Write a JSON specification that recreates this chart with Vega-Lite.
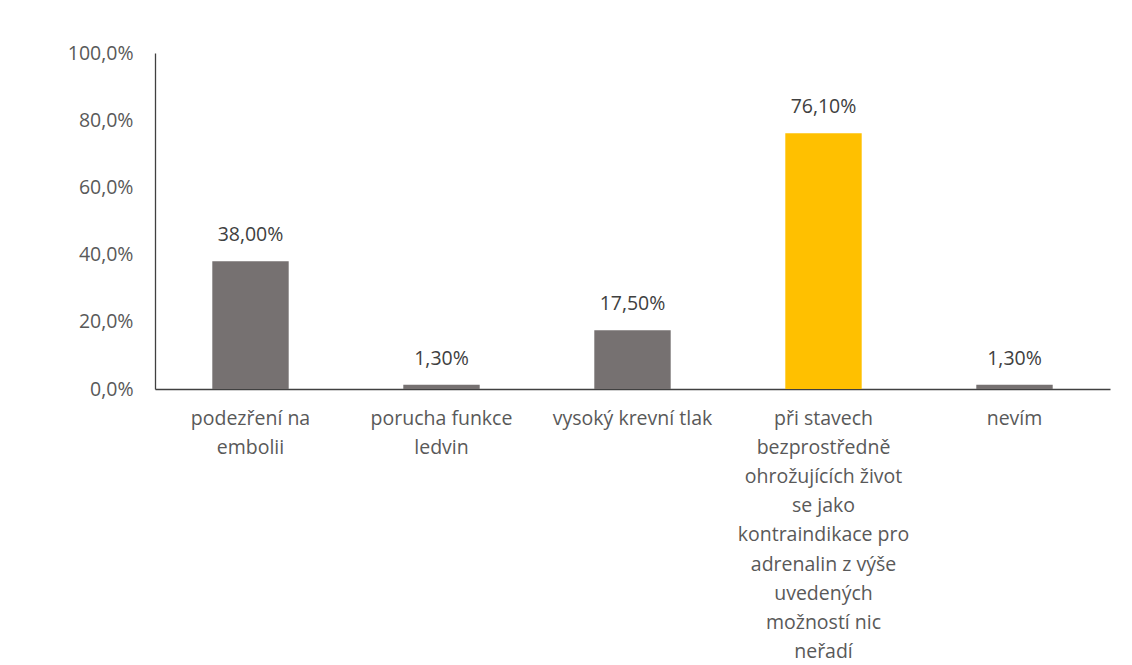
{
  "$schema": "https://vega.github.io/schema/vega-lite/v6.json",
  "autosize": "none",
  "width": 955,
  "height": 336,
  "padding": {"left": 155, "top": 53, "right": 22, "bottom": 276},
  "background": "white",
  "config": {
    "locale": {"number": {"decimal": ",", "thousands": " ", "grouping": [3], "currency": ["", " Kč"]}},
    "view": {"stroke": null},
    "font": "Open Sans"
  },
  "data": {
    "values": [
      {"kategorie": "podezření na\nembolii", "podil": 0.38, "zvyrazneni": "ne"},
      {"kategorie": "porucha funkce\nledvin", "podil": 0.013, "zvyrazneni": "ne"},
      {"kategorie": "vysoký krevní tlak", "podil": 0.175, "zvyrazneni": "ne"},
      {"kategorie": "při stavech\nbezprostředně\nohrožujících život\nse jako\nkontraindikace pro\nadrenalin z výše\nuvedených\nmožností nic\nneřadí", "podil": 0.761, "zvyrazneni": "ano"},
      {"kategorie": "nevím", "podil": 0.013, "zvyrazneni": "ne"}
    ]
  },
  "encoding": {
    "x": {
      "field": "kategorie",
      "type": "nominal",
      "sort": null,
      "scale": {"paddingInner": 0, "paddingOuter": 0},
      "axis": {
        "title": null,
        "labelAngle": 0,
        "labelExpr": "split(datum.label, '\\n')",
        "labelLimit": 0,
        "labelFontSize": 19.5,
        "labelLineHeight": 29.2,
        "labelColor": "#595959",
        "labelPadding": 20,
        "ticks": false,
        "domainColor": "#404040",
        "domainWidth": 1.3,
        "labelBaseline": "top"
      }
    },
    "y": {
      "field": "podil",
      "type": "quantitative",
      "scale": {"domain": [0, 1], "nice": false},
      "axis": {
        "title": null,
        "values": [0, 0.2, 0.4, 0.6, 0.8, 1],
        "format": ".1%",
        "grid": false,
        "ticks": false,
        "labelFontSize": 19.5,
        "labelColor": "#595959",
        "labelPadding": 22,
        "domainColor": "#404040",
        "domainWidth": 1.3
      }
    }
  },
  "layer": [
    {
      "mark": {"type": "bar", "width": {"band": 0.4}},
      "encoding": {
        "color": {
          "field": "zvyrazneni",
          "type": "nominal",
          "scale": {"domain": ["ne", "ano"], "range": ["#767171", "#FFC000"]},
          "legend": null
        }
      }
    },
    {
      "mark": {"type": "text", "baseline": "alphabetic", "dy": -20, "fontSize": 19.5, "color": "#404040"},
      "encoding": {
        "text": {"field": "podil", "type": "quantitative", "format": ".2%"}
      }
    }
  ]
}
